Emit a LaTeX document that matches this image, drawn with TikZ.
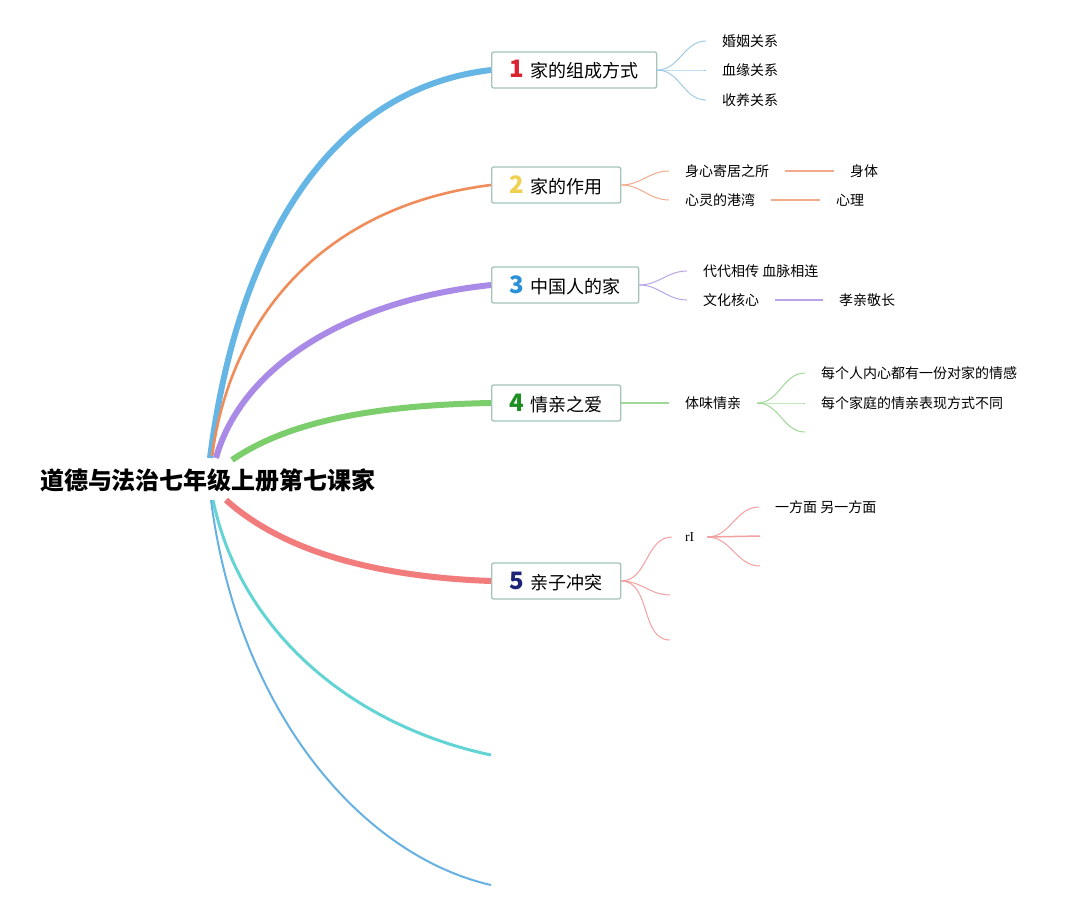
\documentclass[tikz,border=0pt]{standalone}
\usepackage{fontspec}
\newfontfamily\cjk{Noto Sans CJK SC}
\newfontfamily\serifrm{Liberation Serif}
\definecolor{cA}{HTML}{65B5E5}
\definecolor{cAl}{HTML}{9FCBE8}
\definecolor{cB}{HTML}{EF8C5A}
\definecolor{cBl}{HTML}{F4A98A}
\definecolor{cC}{HTML}{A98AE6}
\definecolor{cCl}{HTML}{B9A4EA}
\definecolor{cD}{HTML}{7CCD6C}
\definecolor{cDl}{HTML}{A0D898}
\definecolor{cE}{HTML}{F27B7B}
\definecolor{cEl}{HTML}{F3A0A0}
\definecolor{cF}{HTML}{62D4D4}
\definecolor{cG}{HTML}{66B0E2}
\definecolor{boxc}{HTML}{A4C4BA}
\definecolor{n1}{HTML}{D9232F}
\definecolor{n2}{HTML}{F0D050}
\definecolor{n3}{HTML}{2A90DA}
\definecolor{n4}{HTML}{1E8F22}
\definecolor{n5}{HTML}{1C2478}
\newcommand\tnum[2]{{\color{#1}\fontsize{24}{24}\selectfont\bfseries #2}\hspace{6pt}}
\begin{document}
\begin{tikzpicture}[x=1pt,y=-1pt,
  topic/.style={draw=boxc,line width=1.3pt,fill=white,rounded corners=2pt,minimum height=36pt,anchor=west,inner sep=0pt,font=\cjk\fontsize{18}{20}\selectfont},
  sub/.style={anchor=west,inner ysep=0pt,inner xsep=16pt,font=\cjk\fontsize{14}{16}\selectfont},
  sline/.style={line width=1pt},
]
\useasboundingbox (0,0) rectangle (1077,911);

% root
\node[font=\cjk\bfseries\fontsize{24}{28}\selectfont,inner sep=0pt] (root) at (208,480) {道德与法治七年级上册第七课家};
\coordinate (r1) at (210,458);
\coordinate (r2) at (212,456);
\coordinate (r3) at (216,458);
\coordinate (r4) at (232,460);
\coordinate (r5) at (226,500);
\coordinate (r6) at (213,500);
\coordinate (r7) at (211,500);
\coordinate (e6) at (491,755);
\coordinate (e7) at (491,885);

% topics
\node[topic,minimum width=165pt] (t1) at (491,70) {\tnum{n1}{1}家的组成方式};
\node[topic,minimum width=129pt] (t2) at (491,185) {\tnum{n2}{2}家的作用};
\node[topic,minimum width=147pt] (t3) at (491,285) {\tnum{n3}{3}中国人的家};
\node[topic,minimum width=129pt] (t4) at (491,403) {\tnum{n4}{4}情亲之爱};
\node[topic,minimum width=129pt] (t5) at (491,581) {\tnum{n5}{5}亲子冲突};

% main branches
\draw[cA,line width=6pt] (r1) .. controls (235,260) and (320,90) .. (t1.west);
\draw[cB,line width=2.6pt] (r2) .. controls (232,310) and (330,205) .. (t2.west);
\draw[cC,line width=6pt] (r3) .. controls (242,365) and (350,300) .. (t3.west);
\draw[cD,line width=6pt] (r4) .. controls (290,420) and (380,405) .. (t4.west);
\draw[cE,line width=6pt] (r5) .. controls (285,553) and (380,577) .. (t5.west);
\draw[cF,line width=3pt] (r6) .. controls (240,630) and (350,725) .. (e6);
\draw[cG,line width=2pt] (r7) .. controls (238,710) and (360,855) .. (e7);

% topic 1 children
\node[sub] (s11) at (706,41) {婚姻关系};
\node[sub] (s12) at (706,70) {血缘关系};
\node[sub] (s13) at (706,100) {收养关系};
\foreach \s in {s11,s12,s13} \draw[cAl,sline] (t1.east) to[out=0,in=180] (\s.west);

% topic 2 children
\node[sub] (s21) at (669,171) {身心寄居之所};
\node[sub] (s22) at (669,200) {心灵的港湾};
\node[sub] (s211) at (834,171) {身体};
\node[sub] (s221) at (820,200) {心理};
\foreach \s in {s21,s22} \draw[cBl,sline] (t2.east) to[out=0,in=180] (\s.west);
\draw[cBl,line width=1.5pt] (s21.east) -- (s211.west);
\draw[cBl,line width=1.5pt] (s22.east) -- (s221.west);

% topic 3 children
\node[sub] (s31) at (687,271) {代代相传 血脉相连};
\node[sub] (s32) at (687,300) {文化核心};
\node[sub] (s321) at (823,300) {孝亲敬长};
\foreach \s in {s31,s32} \draw[cCl,sline] (t3.east) to[out=0,in=180] (\s.west);
\draw[cCl,line width=1.5pt] (s32.east) -- (s321.west);

% topic 4 children
\node[sub] (s41) at (669,403) {体味情亲};
\draw[cDl,line width=1.3pt] (t4.east) -- (s41.west);
\node[sub] (s411) at (805,373) {每个人内心都有一份对家的情感};
\node[sub] (s412) at (805,403) {每个家庭的情亲表现方式不同};
\coordinate (s413) at (805,432);
\draw[cDl,sline] (s41.east) to[out=0,in=180] (s411.west);
\draw[cDl,sline] (s41.east) to[out=0,in=180] (s412.west);
\draw[cDl,sline] (s41.east) to[out=0,in=180] (s413);

% topic 5 children
\node[sub,font=\serifrm\fontsize{13.5}{16}\selectfont,inner xsep=13pt] (s51) at (672,537) {rI};
\coordinate (s52) at (670,595);
\coordinate (s53) at (670,640);
\foreach \s in {s52,s53} \draw[cEl,sline] (t5.east) to[out=0,in=180] (\s);
\draw[cEl,sline] (t5.east) to[out=0,in=180] (s51.west);
\node[sub] (s511) at (759,507) {一方面 另一方面};
\coordinate (s512) at (760,536);
\coordinate (s513) at (760,566);
\draw[cEl,sline] (s51.east) to[out=0,in=180] (s511.west);
\draw[cEl,line width=1.5pt] (s51.east) -- (s512);
\draw[cEl,sline] (s51.east) to[out=0,in=180] (s513);
\end{tikzpicture}
\end{document}
